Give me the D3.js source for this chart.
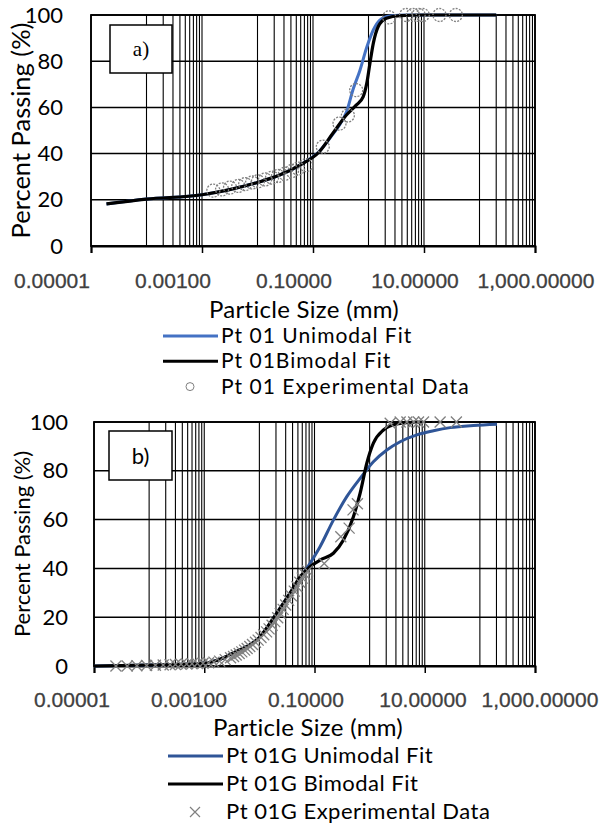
<!DOCTYPE html>
<html lang="en">
<head>
<meta charset="UTF-8">
<title>Particle size distribution</title>
<script src="https://d3js.org/d3.v7.min.js"></script>
<style>
  body { margin: 0; background: #fff; }
  text { font-family: Lato, "Open Sans", sans-serif; }
</style>
</head>
<body>
<div id="main"></div>
<script>
// axis ticks
var sizeTicks = [1e-5, 1e-3, 1e-1, 10, 1000]
var sizeTickLabels = ['0.00001', '0.00100', '0.10000', '10.00000', '1,000.00000']
var pctTicks = [0, 20, 40, 60, 80, 100]

// panel a) - Pt 01
var aUniSize = [1.9e-5, 1e-4, 1e-3, 3e-3, 0.01, 0.025, 0.058, 0.13, 0.23, 0.34, 0.4, 0.53, 0.7, 0.93, 1.22, 1.6, 2.4, 5, 200]
var aUniPct  = [18.2, 20.3, 22.2, 24.3, 27.5, 30.7, 35, 41, 48.5, 54.5, 58, 68, 76, 86, 93.5, 97.8, 99.6, 100, 100]
var aBiSize = [1.9e-5, 1e-4, 1e-3, 3e-3, 0.01, 0.025, 0.058, 0.13, 0.23, 0.4, 0.6, 0.8, 0.93, 1.06, 1.22, 1.5, 2.1, 3.7, 10, 200]
var aBiPct  = [18.2, 20.3, 22.2, 24.3, 27.5, 30.7, 35, 40.8, 48.9, 56.7, 61, 64.6, 70.4, 79, 87.7, 95, 98.6, 99.7, 100, 100]
var aExpSize = [0.0016, 0.0023, 0.0032, 0.0045, 0.006, 0.008, 0.0102, 0.0137, 0.0183, 0.0234, 0.0313, 0.0418, 0.054, 0.075, 0.15, 0.3, 0.425, 0.6, 2.36, 4.75, 6.3, 8, 9.5, 19, 37.5]
var aExpPct  = [24, 24.5, 25.3, 26, 26.8, 27.5, 28, 28.8, 29.6, 30.3, 31.3, 32.5, 33.5, 35, 43, 53, 56.5, 67.5, 99, 100, 100, 100, 100, 100, 100]

// panel b) - Pt 01G
var bUniSize = [1e-5, 1e-4, 8.4e-4, 1.8e-3, 3.3e-3, 0.0103, 0.0207, 0.036, 0.055, 0.083, 0.126, 0.22, 0.385, 0.672, 1.17, 2.05, 3.58, 7.19, 14.4, 28.9, 76.6, 204]
var bUniPct  = [0, 0.4, 1, 2.5, 5.3, 12, 21.7, 29.9, 36, 42.1, 48.9, 59.8, 69.4, 76.9, 83.7, 88.5, 91.9, 94.7, 96.4, 97.7, 98.6, 99.1]
var bBiSize = [1e-5, 1e-4, 8.4e-4, 1.8e-3, 3.3e-3, 0.0103, 0.0207, 0.036, 0.055, 0.083, 0.126, 0.22, 0.335, 0.508, 0.672, 0.889, 1.17, 1.78, 3.12, 6.24, 9.4]
var bBiPct  = [0, 0.4, 1, 2.5, 5.3, 12, 21.7, 29.9, 36.6, 40.7, 43.4, 46.2, 51.6, 61.2, 70.8, 83.1, 91.3, 96.7, 99.2, 99.9, 100]
var bExpSize = [0.000025, 0.00004, 0.00006, 0.00009, 0.00013, 0.00018, 0.00024, 0.0003, 0.00038, 0.00048, 0.0006, 0.00075, 0.00095, 0.0012, 0.0015, 0.0019, 0.0024, 0.003, 0.0034, 0.0038, 0.0043, 0.0048, 0.0054, 0.006, 0.0067, 0.0075, 0.0085, 0.0095, 0.0107, 0.012, 0.0135, 0.015, 0.017, 0.019, 0.0215, 0.024, 0.027, 0.03, 0.034, 0.038, 0.043, 0.048, 0.054, 0.06, 0.067, 0.075, 0.15, 0.3, 0.425, 0.5, 0.6, 2.36, 3.58, 4.75, 6.3, 7.7, 9.5, 19, 37.5]
var bExpPct  = [0, 0, 0.1, 0.2, 0.3, 0.4, 0.5, 0.6, 0.7, 0.8, 0.9, 1, 1.1, 1.3, 1.6, 2, 2.6, 3.4, 3.9, 4.5, 5.1, 5.8, 6.5, 7.2, 8, 8.8, 9.7, 10.6, 11.7, 12.8, 14, 15.2, 16.7, 18.2, 19.8, 21.5, 23.2, 25, 26.9, 28.8, 30.7, 32.5, 34.3, 36, 37.6, 39, 42, 53, 56.5, 64, 66.5, 99.5, 100, 100, 100, 100, 100, 100, 100]

var width = 606
var height = 823

var svg = d3.select('#main').append('svg')
    .attr('width', width)
    .attr('height', height)
    .style('background', '#fff')

var panels = [
    {
        left: 91, right: 535, top: 15, bottom: 246,
        labelRange: [52, 536], labelY: 288,
        yLabelX: 63, yTitleSize: 25.5, titleX: 304, titleY: 318,
        box: [110, 25, 62, 48], boxText: 'a)', boxFont: '"Liberation Serif", serif', boxSize: 21,
        blue: '#4472c4',
        uni: [aUniSize, aUniPct], bi: [aBiSize, aBiPct], exp: [aExpSize, aExpPct], marker: 'circle',
        legendX: 163, legendY: 336, legendGap: 25.3, legendSize: 21, legendSpacing: 1,
        names: ['Pt 01 Unimodal Fit', 'Pt 01Bimodal Fit', 'Pt 01 Experimental Data']
    },
    {
        left: 94, right: 535, top: 422, bottom: 666,
        labelRange: [72, 540], labelY: 707,
        yLabelX: 68, yTitleSize: 22, titleX: 308, titleY: 736,
        box: [109, 431, 63, 49], boxText: 'b)', boxFont: 'Lato, sans-serif', boxSize: 22,
        blue: '#2f5597',
        uni: [bUniSize, bUniPct], bi: [bBiSize, bBiPct], exp: [bExpSize, bExpPct], marker: 'cross',
        legendX: 168, legendY: 756, legendGap: 28, legendSize: 22, legendSpacing: 0.5,
        names: ['Pt 01G Unimodal Fit', 'Pt 01G Bimodal Fit', 'Pt 01G Experimental Data']
    }
]

function zip(xs, ys) {
    return xs.map(function (d, i) { return { size: d, pct: ys[i] } })
}

function drawPanel(p) {
    var x = d3.scaleLog().domain([1e-5, 1e3]).range([p.left, p.right])
    var y = d3.scaleLinear().domain([0, 100]).range([p.bottom, p.top])
    // tick labels sit a bit off the ticks in the original, spread on their own scale
    var xLab = d3.scaleLog().domain([1e-5, 1e3]).range(p.labelRange)
    var g = svg.append('g')

    // minor gridlines: Excel puts 1..9 x 10^(a+1) inside each two-decade step
    var minor = []
    d3.range(-5, 3, 2).forEach(function (a) {
        d3.range(1, 10).forEach(function (n) { minor.push(n * Math.pow(10, a + 1)) })
    })
    g.selectAll('.vgrid').data(minor.concat(sizeTicks)).enter().append('line')
        .attr('x1', d => x(d)).attr('x2', d => x(d))
        .attr('y1', p.top).attr('y2', p.bottom)
        .attr('stroke', '#000').attr('stroke-width', 1.1)
    g.selectAll('.hgrid').data(pctTicks).enter().append('line')
        .attr('x1', p.left).attr('x2', p.right)
        .attr('y1', d => y(d)).attr('y2', d => y(d))
        .attr('stroke', '#000').attr('stroke-width', 1.5)

    // x axis with major ticks below the plot
    var xAxis = g.append('g').attr('transform', 'translate(0,' + p.bottom + ')')
        .call(d3.axisBottom(x).tickValues(sizeTicks).tickSize(7).tickFormat(''))
    xAxis.select('.domain').attr('stroke-width', 2)
    xAxis.selectAll('.tick line').attr('stroke-width', 1.5)

    g.selectAll('.xlab').data(sizeTicks).enter().append('text')
        .attr('x', d => xLab(d)).attr('y', p.labelY)
        .attr('text-anchor', 'middle')
        .style('font-family', '"Liberation Sans", Arial, sans-serif')
        .style('font-size', '21px').attr('fill', '#404040')
        .attr('stroke', '#404040').attr('stroke-width', 0.3)
        .text((d, i) => sizeTickLabels[i])

    // y axis labels
    var yAxis = g.append('g').attr('transform', 'translate(' + p.yLabelX + ',0)')
        .call(d3.axisLeft(y).tickValues(pctTicks).tickSize(0).tickPadding(0))
    yAxis.select('.domain').remove()
    yAxis.selectAll('text').style('font-family', 'Lato, sans-serif').style('font-size', '22px').attr('fill', '#000')

    // frame
    g.append('rect').attr('x', p.left).attr('y', p.top)
        .attr('width', p.right - p.left).attr('height', p.bottom - p.top)
        .attr('fill', 'none').attr('stroke', '#000').attr('stroke-width', 1.8)

    // titles
    g.append('text')
        .attr('transform', 'translate(30,' + (p.top + p.bottom) / 2 + ') rotate(-90)')
        .attr('text-anchor', 'middle').style('font-size', p.yTitleSize + 'px')
        .text('Percent Passing (%)')
    g.append('text').attr('x', p.titleX).attr('y', p.titleY)
        .attr('text-anchor', 'middle').style('font-size', '24px')
        .style('letter-spacing', '0.3px')
        .text('Particle Size (mm)')

    // curves
    var line = d3.line().x(d => x(d.size)).y(d => y(d.pct)).curve(d3.curveMonotoneX)
    g.append('path').attr('d', line(zip(p.uni[0], p.uni[1])))
        .attr('fill', 'none').attr('stroke', p.blue).attr('stroke-width', 3)
    g.append('path').attr('d', line(zip(p.bi[0], p.bi[1])))
        .attr('fill', 'none').attr('stroke', '#000').attr('stroke-width', 3.2)

    // experimental points
    var pts = zip(p.exp[0], p.exp[1])
    if (p.marker == 'circle') {
        g.selectAll('.pt').data(pts).enter().append('circle')
            .attr('cx', d => x(d.size)).attr('cy', d => y(d.pct)).attr('r', 6.5)
            .attr('fill', 'none').attr('stroke', '#808080').attr('stroke-width', 1.3)
            .attr('stroke-dasharray', '2,1.3')
    } else {
        g.selectAll('.pt').data(pts).enter().append('path')
            .attr('transform', d => 'translate(' + x(d.size) + ',' + y(d.pct) + ')')
            .attr('d', 'M-5.5,-5.5L5.5,5.5M-5.5,5.5L5.5,-5.5')
            .attr('stroke', '#808080').attr('stroke-width', 1.3).attr('fill', 'none')
    }

    // label box
    g.append('rect').attr('x', p.box[0]).attr('y', p.box[1])
        .attr('width', p.box[2]).attr('height', p.box[3])
        .attr('fill', '#fff').attr('stroke', '#000').attr('stroke-width', 1.5)
    g.append('text').attr('x', p.box[0] + p.box[2] / 2).attr('y', p.box[1] + p.box[3] / 2)
        .attr('text-anchor', 'middle').attr('dominant-baseline', 'central')
        .style('font-family', p.boxFont).style('font-size', p.boxSize + 'px')
        .text(p.boxText)

    // legend
    var lg = g.append('g')
    var colors = [p.blue, '#000']
    colors.forEach(function (c, i) {
        lg.append('line').attr('x1', p.legendX).attr('x2', p.legendX + 55)
            .attr('y1', p.legendY + i * p.legendGap).attr('y2', p.legendY + i * p.legendGap)
            .attr('stroke', c).attr('stroke-width', 3)
    })
    var my = p.legendY + 2 * p.legendGap
    var mx = p.legendX + 27
    if (p.marker == 'circle') {
        lg.append('circle').attr('cx', mx).attr('cy', my).attr('r', 4)
            .attr('fill', 'none').attr('stroke', '#808080').attr('stroke-width', 1)
    } else {
        lg.append('path').attr('transform', 'translate(' + mx + ',' + my + ')')
            .attr('d', 'M-5,-5L5,5M-5,5L5,-5').attr('stroke', '#808080').attr('stroke-width', 1.2)
    }
    lg.selectAll('.lt').data(p.names).enter().append('text')
        .attr('x', p.legendX + 58).attr('y', (d, i) => p.legendY + i * p.legendGap + 7)
        .style('font-size', p.legendSize + 'px')
        .style('letter-spacing', p.legendSpacing + 'px')
        .text(d => d)
}

panels.forEach(drawPanel)
</script>
</body>
</html>
